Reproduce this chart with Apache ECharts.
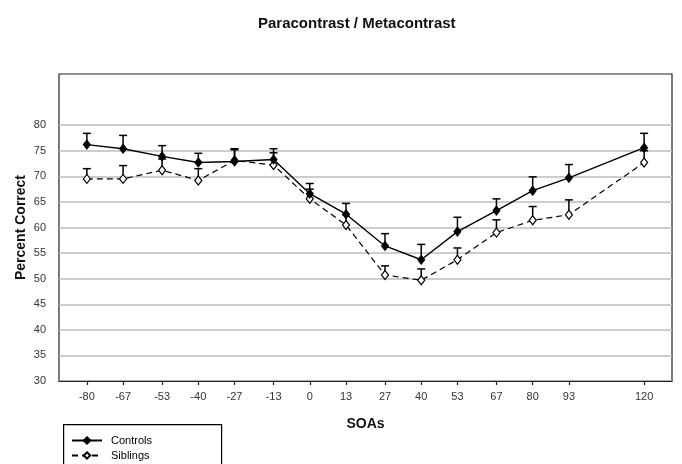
<!DOCTYPE html>
<html><head><meta charset="utf-8">
<script src="https://cdn.jsdelivr.net/npm/echarts@6/dist/echarts.min.js"></script>
<style>html,body{margin:0;padding:0;background:#fff}#c{width:682px;height:464px}</style>
</head><body><div id="c"></div>
<script>
const soas = [-80, -67, -53, -40, -27, -13, 0, 13, 27, 40, 53, 67, 80, 93, 120];
const yTicks = [30, 35, 40, 45, 50, 55, 60, 65, 70, 75, 80];
const controls      = [76.2, 75.4, 73.9, 72.7, 72.9, 73.3, 66.6, 62.6, 56.4, 53.7, 59.2, 63.3, 67.2, 69.7, 75.6];
const controlsUpper = [78.4, 78.0, 76.0, 74.5, 75.4, 75.4, 68.6, 64.7, 58.8, 56.7, 62.0, 65.6, 69.9, 72.3, 78.4];
const siblings      = [69.5, 69.5, 71.2, 69.2, 73.1, 72.2, 65.6, 60.5, 50.7, 49.7, 53.7, 59.0, 61.4, 62.5, 72.7];
const siblingsUpper = [71.5, 72.1, 73.4, 71.5, 75.2, 74.6, 67.5, 62.5, 52.5, 51.9, 56.0, 61.5, 64.1, 65.4, 75.0];

const FONT = 'Liberation Sans, Arial, sans-serif';
const pairs = (ys) => soas.map((x, i) => [x, ys[i]]);
const triples = (ys, us) => soas.map((x, i) => [x, ys[i], us[i]]);

function errRender(params, api) {
  const x = api.value(0), m = api.value(1), u = api.value(2);
  const p0 = api.coord([x, m]), p1 = api.coord([x, u]);
  const hw = 4;
  return {
    type: 'group',
    children: [
      { type: 'line', shape: { x1: p0[0], y1: p0[1], x2: p1[0], y2: p1[1] }, style: { stroke: '#000', lineWidth: 1.5 } },
      { type: 'line', shape: { x1: p1[0] - hw, y1: p1[1], x2: p1[0] + hw, y2: p1[1] }, style: { stroke: '#000', lineWidth: 1.5 } }
    ]
  };
}

const legendBase = {
  orient: 'horizontal', itemWidth: 30, itemHeight: 8, left: 66, itemGap: 8,
  textStyle: { fontSize: 11, color: '#000', fontFamily: FONT, padding: [0, 0, 0, 4] }, z: 5
};

const chart = echarts.init(document.getElementById('c'), null, { renderer: 'canvas' });
chart.setOption({
  backgroundColor: '#fff',
  animation: false,
  textStyle: { fontFamily: FONT },
  title: {
    text: 'Paracontrast / Metacontrast',
    left: 253, top: 11,
    textStyle: { fontSize: 15, fontWeight: 'bold', color: '#111', fontFamily: FONT }
  },
  grid: { left: 59, right: 10, top: 74, bottom: 83, show: true, borderColor: '#222', borderWidth: 1.2, backgroundColor: 'transparent' },
  graphic: [{
    type: 'rect', left: 63, top: 424, shape: { width: 158, height: 60 },
    style: { fill: '#fff', stroke: '#000', lineWidth: 1.2 }, z: 1
  }],
  legend: [
    Object.assign({}, legendBase, { data: ['Controls'], top: 433, padding: [2, 5] }),
    Object.assign({}, legendBase, { data: ['Siblings'], top: 448, padding: [2, 5] })
  ],
  xAxis: {
    type: 'value', min: -90, max: 130,
    name: 'SOAs', nameLocation: 'middle', nameGap: 36,
    nameTextStyle: { fontSize: 14, fontWeight: 'bold', color: '#111', fontFamily: FONT },
    axisLine: { show: true, lineStyle: { color: '#222', width: 1.2 } },
    axisTick: { show: true, customValues: soas, length: 4, lineStyle: { color: '#222', width: 1.2 } },
    axisLabel: { customValues: soas, fontSize: 11, color: '#333', margin: 10, fontFamily: FONT },
    splitLine: { show: false }
  },
  yAxis: {
    type: 'value', min: 30, max: 90,
    name: 'Percent Correct', nameLocation: 'middle', nameGap: 31, nameRotate: 90,
    nameMoveOverlap: false,
    nameTextStyle: { fontSize: 14, fontWeight: 'bold', color: '#111', fontFamily: FONT },
    axisLine: { show: false },
    axisTick: { show: false, customValues: yTicks },
    axisLabel: { customValues: yTicks, fontSize: 11, color: '#333', margin: 13, fontFamily: FONT },
    splitLine: { show: true, lineStyle: { color: '#bdbdbd', width: 1.5 } }
  },
  series: [
    {
      type: 'custom', name: 'ControlsErr', renderItem: errRender, z: 2,
      encode: { x: 0, y: [1, 2] }, data: triples(controls, controlsUpper), silent: true
    },
    {
      type: 'custom', name: 'SiblingsErr', renderItem: errRender, z: 2,
      encode: { x: 0, y: [1, 2] }, data: triples(siblings, siblingsUpper), silent: true
    },
    {
      type: 'line', name: 'Siblings', data: pairs(siblings), z: 3,
      symbol: 'diamond', symbolSize: [7, 9],
      lineStyle: { color: '#000', width: 1.2, type: [6, 4] },
      itemStyle: { color: '#fff', borderColor: '#000', borderWidth: 1.2 }
    },
    {
      type: 'line', name: 'Controls', data: pairs(controls), z: 4,
      symbol: 'diamond', symbolSize: [7, 9],
      lineStyle: { color: '#000', width: 1.4 },
      itemStyle: { color: '#000', borderColor: '#000', borderWidth: 1 }
    }
  ]
});
</script></body></html>
